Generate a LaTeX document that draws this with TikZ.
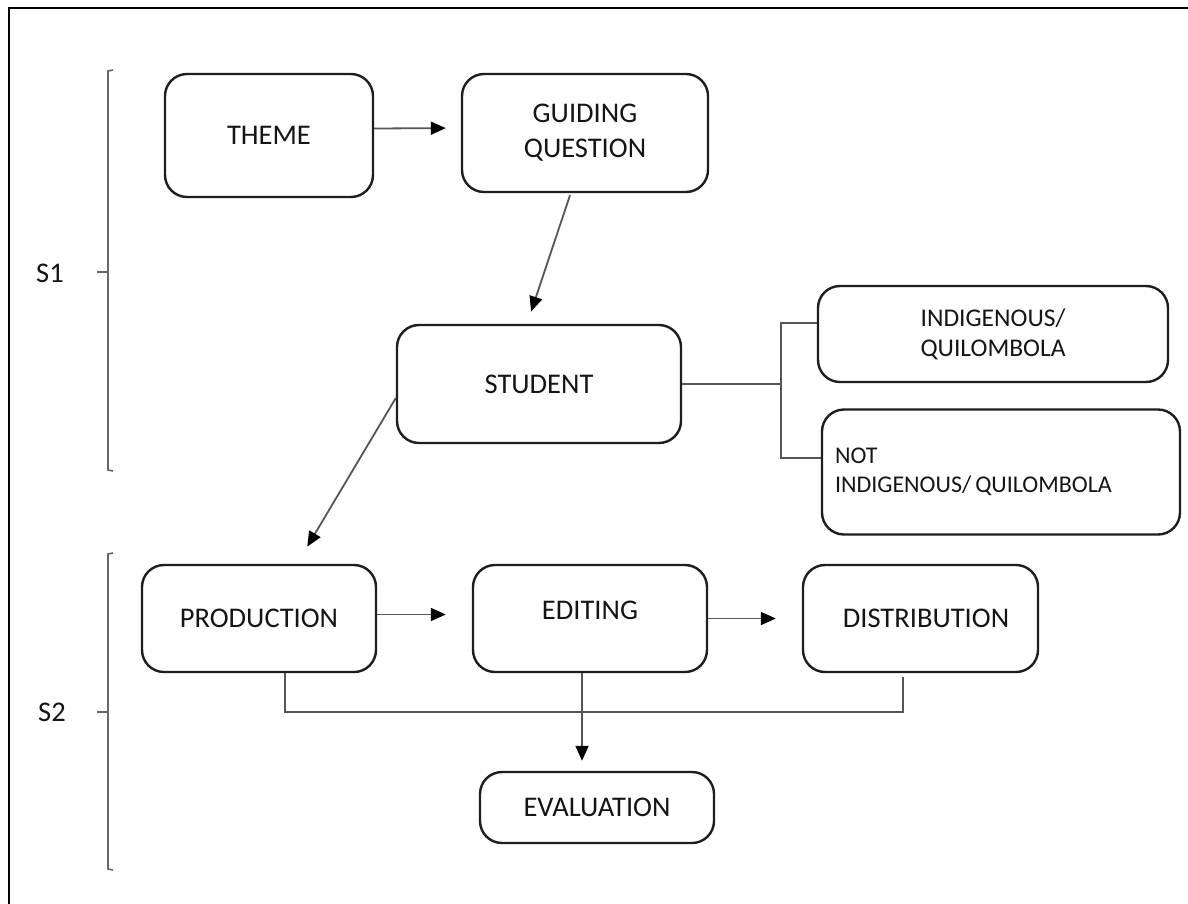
\documentclass[tikz,border=0pt]{standalone}
\usepackage{fontspec}
\setmainfont{Carlito}
\usetikzlibrary{arrows.meta,calc}
\definecolor{boxline}{HTML}{1E1E1E}
\definecolor{connline}{HTML}{555555}
\definecolor{txt}{HTML}{151515}
\tikzset{
  boxnode/.style={draw=boxline, line width=2.4pt, rounded corners=22pt, text=txt,
    font=\fontsize{28.5}{35}\selectfont, align=center, inner sep=0pt},
  conn/.style={draw=connline, line width=1.8pt},
  arr/.style={conn, -{Triangle[length=15pt,width=13pt,color=black]}},
  brk/.style={draw=connline!90, line width=1.6pt},
  lab/.style={text=txt, font=\fontsize{28.5}{35}\selectfont, inner sep=0pt}
}
\begin{document}
\begin{tikzpicture}[x=1pt,y=-1pt]
\useasboundingbox (0,0) rectangle (1188,903);
\fill[white] (0,0) rectangle (1188,903);
% frame
\draw[line width=2.2pt, black] (9,905) -- (9,8) -- (1190,8);

% boxes
\node[boxnode, minimum width=208pt, minimum height=123pt] (theme) at (269,135.5) {THEME};
\node[boxnode, minimum width=246pt, minimum height=118pt] (guiding) at (585,133) {GUIDING\\QUESTION};
\node[boxnode, minimum width=284pt, minimum height=118pt] (student) at (539,384) {STUDENT};
\node[boxnode, minimum width=350pt, minimum height=96pt, font=\fontsize{25.5}{30}\selectfont] (indig) at (993,334) {INDIGENOUS/\\QUILOMBOLA};
\node[boxnode, minimum width=358pt, minimum height=125pt, font=\fontsize{24}{28.5}\selectfont, align=left, text width=332pt] (notind) at (1001,472) {NOT\\INDIGENOUS/\,QUILOMBOLA};
\node[boxnode, minimum width=234pt, minimum height=107pt] (production) at (259,618.5) {PRODUCTION};
\node[boxnode, minimum width=234pt, minimum height=107pt] (editing) at (590,618.5) {\raisebox{16pt}{EDITING}};
\node[boxnode, minimum width=235pt, minimum height=107pt] (distribution) at (920.5,618.5) {\hspace*{11pt}DISTRIBUTION};
\node[boxnode, minimum width=234pt, minimum height=71pt] (evaluation) at (597,807.5) {EVALUATION};

% section labels
\node[lab] (s1) at (50,273) {S1};
\node[lab] (s2) at (52,712) {S2};

% brackets
\coordinate (b1t) at (113,70);
\coordinate (b1b) at (113,471);
\coordinate (b2t) at (113,553);
\coordinate (b2b) at (113,870);
\draw[brk] (b1t) -- (108,71) -- (108,470) -- (b1b);
\draw[brk] (97,272) -- (108,272);
\draw[brk] (b2t) -- (108,554) -- (108,869) -- (b2b);
\draw[brk] (97,712) -- (108,712);

% arrows
\draw[arr, shorten >=15pt] ($(theme.east)+(0,-7)$) -- ($(guiding.west)+(0,-5)$);
\draw[arr, shorten >=13pt] ($(guiding.south)+(-15,2)$) -- ($(student.north)+(-12,0)$);
\draw[arr, shorten >=20pt] ($(student.west)+(0,14)$) -- ($(production.north)+(38,0)$);
\draw[arr, shorten >=26pt] ($(production.east)+(0,-4)$) -- ($(editing.west)+(0,-4)$);
\draw[arr, shorten >=26pt] ($(editing.east)+(0,0)$) -- ($(distribution.west)+(0,0)$);
\draw[arr, shorten >=10pt] ($(editing.south)+(-8,0)$) -- ($(evaluation.north)+(-15,0)$);

% collector line
\draw[conn] ($(production.south)+(26,0)$) -- ++(0,39) -| ($(distribution.south)+(-17.5,4)$);

% student branches
\coordinate (split) at (781,384);
\draw[conn] (student.east) -- (split);
\draw[conn] ($(indig.west)+(0,-11)$) -| (split) |- ($(notind.west)+(0,-14)$);
\end{tikzpicture}
\end{document}
